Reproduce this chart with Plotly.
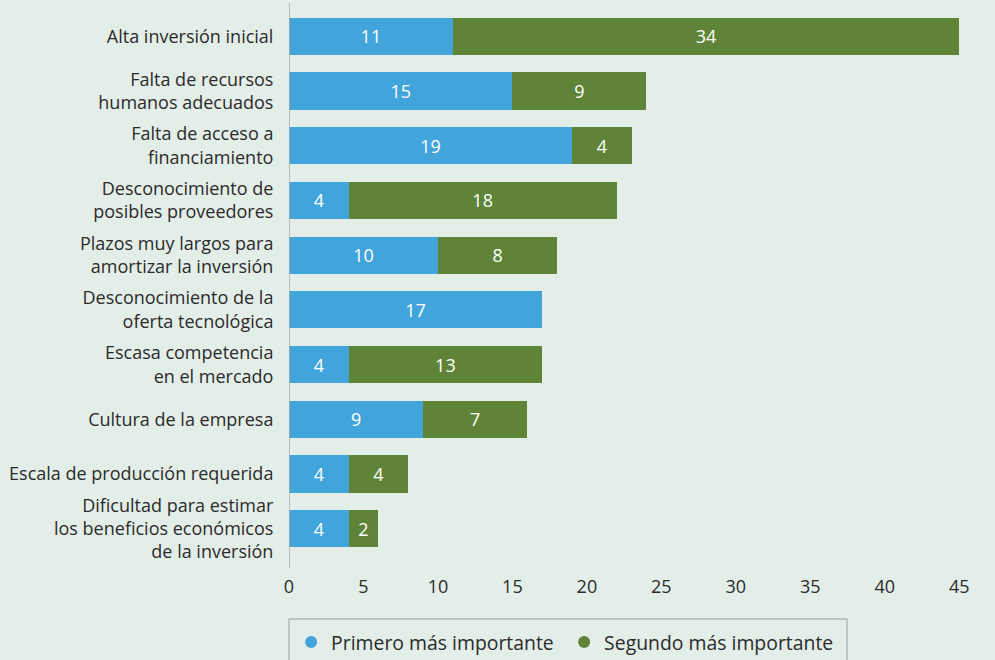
import plotly.graph_objects as go

categories = [
    "Alta inversión inicial",
    "Falta de recursos<br>humanos adecuados",
    "Falta de acceso a<br>financiamiento",
    "Desconocimiento de<br>posibles proveedores",
    "Plazos muy largos para<br>amortizar la inversión",
    "Desconocimiento de la<br>oferta tecnológica",
    "Escasa competencia<br>en el mercado",
    "Cultura de la empresa",
    "Escala de producción requerida",
    "Dificultad para estimar<br>los beneficios económicos<br>de la inversión",
]
primero = [11, 15, 19, 4, 10, 17, 4, 9, 4, 4]
segundo = [34, 9, 4, 18, 8, 0, 13, 7, 4, 2]
x_ticks = [0, 5, 10, 15, 20, 25, 30, 35, 40, 45]
series_names = ["Primero más importante", "Segundo más importante"]

BLUE = "#41a5dc"
GREEN = "#5f8438"
BG = "#e3eee8"
TEXT = "#2b2b2b"
FONT = "Open Sans"

def labels(vals):
    return [str(v) if v else "" for v in vals]

fig = go.Figure()
for vals, name, color in [(primero, series_names[0], BLUE), (segundo, series_names[1], GREEN)]:
    fig.add_trace(go.Bar(
        y=categories, x=vals, orientation="h", name=name, showlegend=False,
        legendgroup=name,
        marker=dict(color=color, line=dict(width=0)),
        text=labels(vals), textposition="inside", insidetextanchor="middle",
        textfont=dict(color="white", size=18, family=FONT),
    ))
# circle markers for the legend entries
for name, color in [(series_names[0], BLUE), (series_names[1], GREEN)]:
    fig.add_trace(go.Scatter(
        x=[None], y=[None], mode="markers", name=name, legendgroup=name,
        marker=dict(symbol="circle", size=14, color=color),
        showlegend=True,
    ))

# vertical baseline at x = 0
fig.add_shape(type="line", xref="x", yref="paper", x0=0, x1=0, y0=-0.0219, y1=1.011,
              line=dict(color="#aaaaaa", width=1.5), layer="above")
# frame around the legend
fig.add_shape(type="rect", xref="paper", yref="paper", x0=0, x1=0.7904,
              y0=-0.2084, y1=-0.1152, line=dict(color="#999999", width=1),
              fillcolor="rgba(0,0,0,0)", layer="below")

fig.update_layout(
    width=995, height=660,
    barmode="stack", bargap=0.32,
    paper_bgcolor=BG, plot_bgcolor=BG,
    font=dict(family=FONT, size=18, color=TEXT),
    margin=dict(l=289, r=0, t=9, b=104, pad=0, autoexpand=False),
    showlegend=True,
    legend=dict(
        orientation="h", x=0.003, y=-0.1225, xanchor="left", yanchor="top",
        bgcolor="rgba(0,0,0,0)", borderwidth=0,
        font=dict(size=19.4, family=FONT, color=TEXT),
        itemsizing="constant", traceorder="normal", entrywidth=228,
    ),
    xaxis=dict(
        range=[0, 47.4], tickvals=x_ticks, showgrid=False, zeroline=False,
        showline=False, ticks="outside", ticklen=14, tickcolor="rgba(0,0,0,0)",
        tickfont=dict(size=18, color=TEXT), fixedrange=True,
    ),
    yaxis=dict(
        autorange="reversed", showgrid=False, zeroline=False, showline=False,
        ticks="outside", ticklen=11, tickcolor="rgba(0,0,0,0)",
        tickfont=dict(size=18, color=TEXT),
    ),
)

fig.write_html("out.html")
